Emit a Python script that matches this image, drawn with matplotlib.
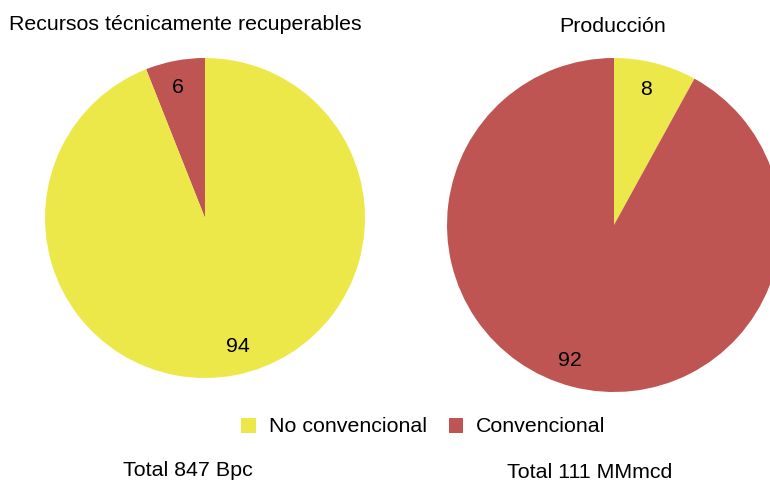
import matplotlib.pyplot as plt

plt.rcParams['font.family'] = ['Liberation Sans', 'DejaVu Sans']

yellow = "#EDE84A"
red = "#BE5553"

# Recursos técnicamente recuperables (%)
res_labels = ["Convencional", "No convencional"]
res_vals = [6, 94]
# Producción (%)
prod_labels = ["No convencional", "Convencional"]
prod_vals = [8, 92]

W, H = 770, 483
fs = 15.4
fig = plt.figure(figsize=(W / 100, H / 100), dpi=100)

# left pie: center (205, 218), r 160
ax1 = fig.add_axes([45 / W, (H - 378) / H, 320 / W, 320 / H])
w1, t1 = ax1.pie(res_vals, colors=[red, yellow], startangle=90, counterclock=True,
                 labels=[str(v) for v in res_vals], labeldistance=0.83,
                 textprops={'fontsize': fs})
ax1.set_aspect('auto')
ax1.set_xlim(-1, 1)
ax1.set_ylim(-1, 1)

# right pie: center (614, 225), r 167
ax2 = fig.add_axes([447 / W, (H - 392) / H, 334 / W, 334 / H])
w2, t2 = ax2.pie(prod_vals, colors=[yellow, red], startangle=90, counterclock=False,
                 labels=[str(v) for v in prod_vals], labeldistance=0.84,
                 textprops={'fontsize': fs})
ax2.set_aspect('auto')
ax2.set_xlim(-1, 1)
ax2.set_ylim(-1, 1)
for t in list(t1) + list(t2):
    t.set_ha('center')
    t.set_va('center')

# excel puts the big labels a bit off the wedge middle
x, y = t1[1].get_position()
t1[1].set_position((x + 0.05, y + 0.01))
x, y = t2[1].get_position()
t2[1].set_position((x - 0.055, y + 0.005))
x, y = t1[0].get_position()
t1[0].set_position((x - 0.012, y))
x, y = t2[0].get_position()
t2[0].set_position((x - 0.018, y))

fig.text(185 / W, 1 - 24 / H, "Recursos técnicamente recuperables", fontsize=fs,
         ha='center', va='center')
fig.text(613 / W, 1 - 27 / H, "Producción", fontsize=fs, ha='center', va='center')
fig.text(188 / W, 1 - 470 / H, "Total 847 Bpc", fontsize=fs, ha='center', va='center')
fig.text(590 / W, 1 - 473 / H, "Total 111 MMmcd", fontsize=fs, ha='center', va='center')

fig.legend([w2[0], w2[1]], prod_labels, loc='center', bbox_to_anchor=(423.5 / W, 1 - 427 / H),
           ncol=2, frameon=False, fontsize=fs, handlelength=0.7, handleheight=0.7,
           handletextpad=0.6, columnspacing=1.0)

fig.savefig("out.png", dpi=100)
